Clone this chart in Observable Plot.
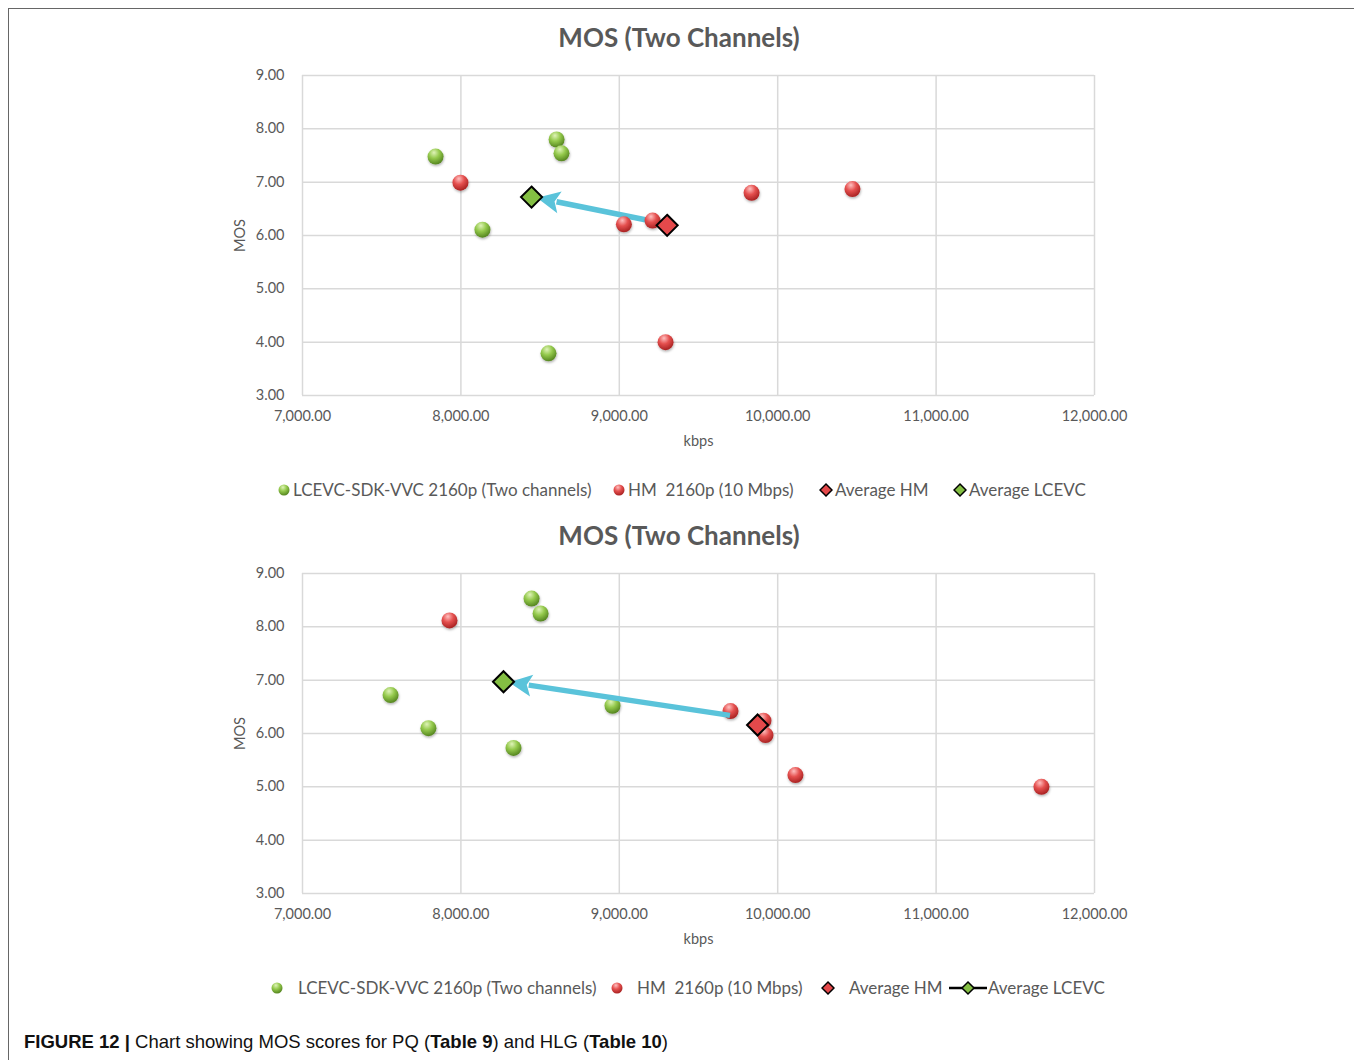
<!DOCTYPE html>
<html><head><meta charset="utf-8">
<script src="https://cdn.jsdelivr.net/npm/d3@7"></script>
<script src="https://cdn.jsdelivr.net/npm/@observablehq/plot@0.6"></script>
<style>
body{margin:0;width:1354px;height:1060px;overflow:hidden;background:#fff;position:relative;font-family:Lato,"Open Sans",sans-serif;}
#frame{position:absolute;left:8px;top:8px;width:1400px;height:1100px;border:1.5px solid #666;box-sizing:border-box;}
.title{position:absolute;left:0;width:1358px;text-align:center;font-weight:bold;font-size:26px;color:#595959;line-height:30px;}
.chart{position:absolute;left:0;}
.legend{position:absolute;left:0;width:1354px;height:24px;font-size:17px;color:#595959;white-space:pre;}
.legend .item{position:absolute;top:0;height:24px;line-height:24px;white-space:pre;}
.legend svg{position:absolute;top:0;}
#caption{position:absolute;left:24px;top:1030px;font-family:"Liberation Sans",Arial,sans-serif;font-size:18.5px;color:#111;line-height:24px;white-space:nowrap;}
</style>
</head><body>
<div id="frame"></div>
<svg width="0" height="0" style="position:absolute">
  <defs>
    <radialGradient id="gGreen" cx="0.4" cy="0.3" r="0.75" fx="0.4" fy="0.25">
      <stop offset="0" stop-color="#dff3b8"/>
      <stop offset="0.45" stop-color="#94c94c"/>
      <stop offset="1" stop-color="#4d7d1a"/>
    </radialGradient>
    <radialGradient id="gRed" cx="0.4" cy="0.3" r="0.75" fx="0.4" fy="0.25">
      <stop offset="0" stop-color="#ffc0c0"/>
      <stop offset="0.45" stop-color="#e5504f"/>
      <stop offset="1" stop-color="#a11c1c"/>
    </radialGradient>
    <filter id="shadow" x="-50%" y="-50%" width="200%" height="200%">
      <feDropShadow dx="0.5" dy="1.5" stdDeviation="1.2" flood-color="#000" flood-opacity="0.3"/>
    </filter>
  </defs>
</svg>
<div id="root"></div>
<script>
// ---- data ----
const xTicks = [7000, 8000, 9000, 10000, 11000, 12000];
const yTicks = [3, 4, 5, 6, 7, 8, 9];
const chartTitles = ["MOS (Two Channels)", "MOS (Two Channels)"];
const xLabel = "kbps";
const yLabel = "MOS";
const seriesNames = ["LCEVC-SDK-VVC 2160p (Two channels)", "HM  2160p (10 Mbps)", "Average HM", "Average LCEVC"];
const captionParts = [["FIGURE 12 | ", true], ["Chart showing MOS scores for PQ (", false], ["Table 9", true], [") and HLG (", false], ["Table 10", true], [")", false]];

// PQ (top chart)
const pqLcevcKbps = [7840, 8604, 8635, 8136, 8553];
const pqLcevcMos  = [7.48, 7.80, 7.54, 6.11, 3.79];
const pqHmKbps = [7997, 9029, 9210, 9835, 10472, 9292];
const pqHmMos  = [6.99, 6.21, 6.28, 6.80, 6.87, 4.00];
const pqAvgHm = [9302, 6.19];
const pqAvgLcevc = [8446, 6.72];
const pqArrowFrom = [9175, 6.28];

// HLG (bottom chart)
const hlgLcevcKbps = [8446, 8503, 7556, 7795, 8332, 8957];
const hlgLcevcMos  = [8.53, 8.25, 6.72, 6.10, 5.73, 6.52];
const hlgHmKbps = [7928, 9702, 9910, 9923, 10112, 11665];
const hlgHmMos  = [8.12, 6.42, 6.24, 5.97, 5.22, 5.00];
const hlgAvgHm = [9873, 6.16];
const hlgAvgLcevc = [8269, 6.97];
const hlgArrowFrom = [9702, 6.33];

// ---- drawing ----
const root = document.getElementById("root");
const grid = {stroke: "#d9d9d9", strokeOpacity: 1, strokeWidth: 1.5};

// arrow drawn with the plot's own x/y scales (filled triangular head)
function arrowMark(from, to) {
  return (index, scales) => {
    const x1 = scales.x(from[0]), y1 = scales.y(from[1]);
    const x2 = scales.x(to[0]), y2 = scales.y(to[1]);
    const dx = x2 - x1, dy = y2 - y1, len = Math.hypot(dx, dy);
    const ux = dx / len, uy = dy / len, px = -uy, py = ux;
    const inset = 6, headLen = 23, headHalf = 11;
    const tx = x2 - ux * inset, ty = y2 - uy * inset;
    const bx = tx - ux * headLen, by = ty - uy * headLen;
    const g = d3.create("svg:g");
    g.append("line").attr("x1", x1).attr("y1", y1).attr("x2", bx + ux * 3).attr("y2", by + uy * 3)
      .attr("stroke", "#5ac3da").attr("stroke-width", 5.5);
    g.append("path").attr("d", `M${tx},${ty}L${bx + px * headHalf},${by + py * headHalf}L${bx + ux * 5},${by + uy * 5}L${bx - px * headHalf},${by - py * headHalf}Z`)
      .attr("fill", "#5ac3da");
    return g.node();
  };
}

function makeChart(cfg, top) {
  const lc = cfg.lcX.map((x, i) => ({x, y: cfg.lcY[i]}));
  const hm = cfg.hmX.map((x, i) => ({x, y: cfg.hmY[i]}));
  const avgHm = [{x: cfg.avgHm[0], y: cfg.avgHm[1]}];
  const avgLc = [{x: cfg.avgLc[0], y: cfg.avgLc[1]}];
  const arrow = arrowMark(cfg.arrowFrom, cfg.avgLc);
  const marks = [
    Plot.gridX(xTicks, grid),
    Plot.gridY(yTicks, grid),
    Plot.axisX(xTicks, {tickSize: 0, tickPadding: 15, tickFormat: d3.format(",.2f"), fontSize: 14.5, label: xLabel, labelAnchor: "center", labelArrow: "none", labelOffset: 50}),
    Plot.axisY(yTicks, {tickSize: 0, tickPadding: 18, tickFormat: d3.format(".2f"), fontSize: 14.5, label: yLabel, labelAnchor: "center", labelArrow: "none", labelOffset: 68}),
  ];
  if (!cfg.arrowOnTop) marks.push(arrow);
  marks.push(
    Plot.dot(lc, {x: "x", y: "y", r: 8, fill: "url(#gGreen)"}),
    Plot.dot(hm, {x: "x", y: "y", r: 8, fill: "url(#gRed)"})
  );
  if (cfg.arrowOnTop) marks.push(arrow);
  marks.push(
    Plot.dot(avgHm, {x: "x", y: "y", symbol: "diamond2", r: 9.5, fill: "#e4494b", stroke: "#000", strokeWidth: 2}),
    Plot.dot(avgLc, {x: "x", y: "y", symbol: "diamond2", r: 9.5, fill: "#84bf43", stroke: "#000", strokeWidth: 2})
  );
  const svg = Plot.plot({
    width: 1354, height: 400,
    marginLeft: 302, marginRight: 260, marginTop: 15, marginBottom: 65,
    style: {fontFamily: "Lato, 'Open Sans', sans-serif", fontSize: "14.5px", color: "#595959", background: "transparent", overflow: "visible"},
    x: {domain: [7000, 12000]},
    y: {domain: [3, 9]},
    marks
  });
  svg.classList.add("chart");
  svg.style.top = top + "px";
  svg.querySelectorAll("circle").forEach(c => c.setAttribute("filter", "url(#shadow)"));
  root.appendChild(svg);
}

function makeTitle(text, top) {
  const d = document.createElement("div");
  d.className = "title";
  d.style.top = top + "px";
  d.textContent = text;
  root.appendChild(d);
}

function sym(kind, w) {
  const s = d3.create("svg").attr("width", w).attr("height", 24);
  if (kind === "green" || kind === "red") {
    s.append("circle").attr("cx", w / 2).attr("cy", 12).attr("r", 5.5)
      .attr("fill", kind === "green" ? "url(#gGreen)" : "url(#gRed)");
  } else {
    const fill = kind === "dRed" ? "#e4494b" : "#84bf43";
    if (kind === "dGreenLine") {
      s.append("line").attr("x1", 1).attr("x2", w - 1).attr("y1", 12).attr("y2", 12).attr("stroke", "#000").attr("stroke-width", 2.5);
    }
    const c = w / 2;
    s.append("path").attr("d", `M${c},6L${c + 6},12L${c},18L${c - 6},12Z`).attr("fill", fill).attr("stroke", "#000").attr("stroke-width", 1.5);
  }
  return s.node();
}

function makeLegend(top, items) {
  const d = document.createElement("div");
  d.className = "legend";
  d.style.top = top + "px";
  for (const it of items) {
    const s = sym(it.kind, it.w);
    s.style.left = it.sx + "px";
    d.appendChild(s);
    const t = document.createElement("span");
    t.className = "item";
    t.style.left = it.tx + "px";
    t.textContent = it.text;
    d.appendChild(t);
  }
  root.appendChild(d);
}

makeTitle(chartTitles[0], 22);
makeChart({lcX: pqLcevcKbps, lcY: pqLcevcMos, hmX: pqHmKbps, hmY: pqHmMos, avgHm: pqAvgHm, avgLc: pqAvgLcevc, arrowFrom: pqArrowFrom, arrowOnTop: false}, 60);
makeLegend(478, [
  {kind: "green", w: 14, sx: 277, tx: 293, text: seriesNames[0]},
  {kind: "red", w: 14, sx: 612, tx: 628, text: seriesNames[1]},
  {kind: "dRed", w: 14, sx: 819, tx: 835, text: seriesNames[2]},
  {kind: "dGreen", w: 14, sx: 953, tx: 969, text: seriesNames[3]},
]);

makeTitle(chartTitles[1], 520);
makeChart({lcX: hlgLcevcKbps, lcY: hlgLcevcMos, hmX: hlgHmKbps, hmY: hlgHmMos, avgHm: hlgAvgHm, avgLc: hlgAvgLcevc, arrowFrom: hlgArrowFrom, arrowOnTop: true}, 558);
makeLegend(976, [
  {kind: "green", w: 14, sx: 270, tx: 298, text: seriesNames[0]},
  {kind: "red", w: 14, sx: 610, tx: 637, text: seriesNames[1]},
  {kind: "dRed", w: 14, sx: 821, tx: 849, text: seriesNames[2]},
  {kind: "dGreenLine", w: 40, sx: 948, tx: 988, text: seriesNames[3]},
]);

const cap = document.createElement("div");
cap.id = "caption";
for (const [t, b] of captionParts) {
  const s = document.createElement(b ? "b" : "span");
  s.textContent = t;
  cap.appendChild(s);
}
root.appendChild(cap);
</script>
</body></html>
